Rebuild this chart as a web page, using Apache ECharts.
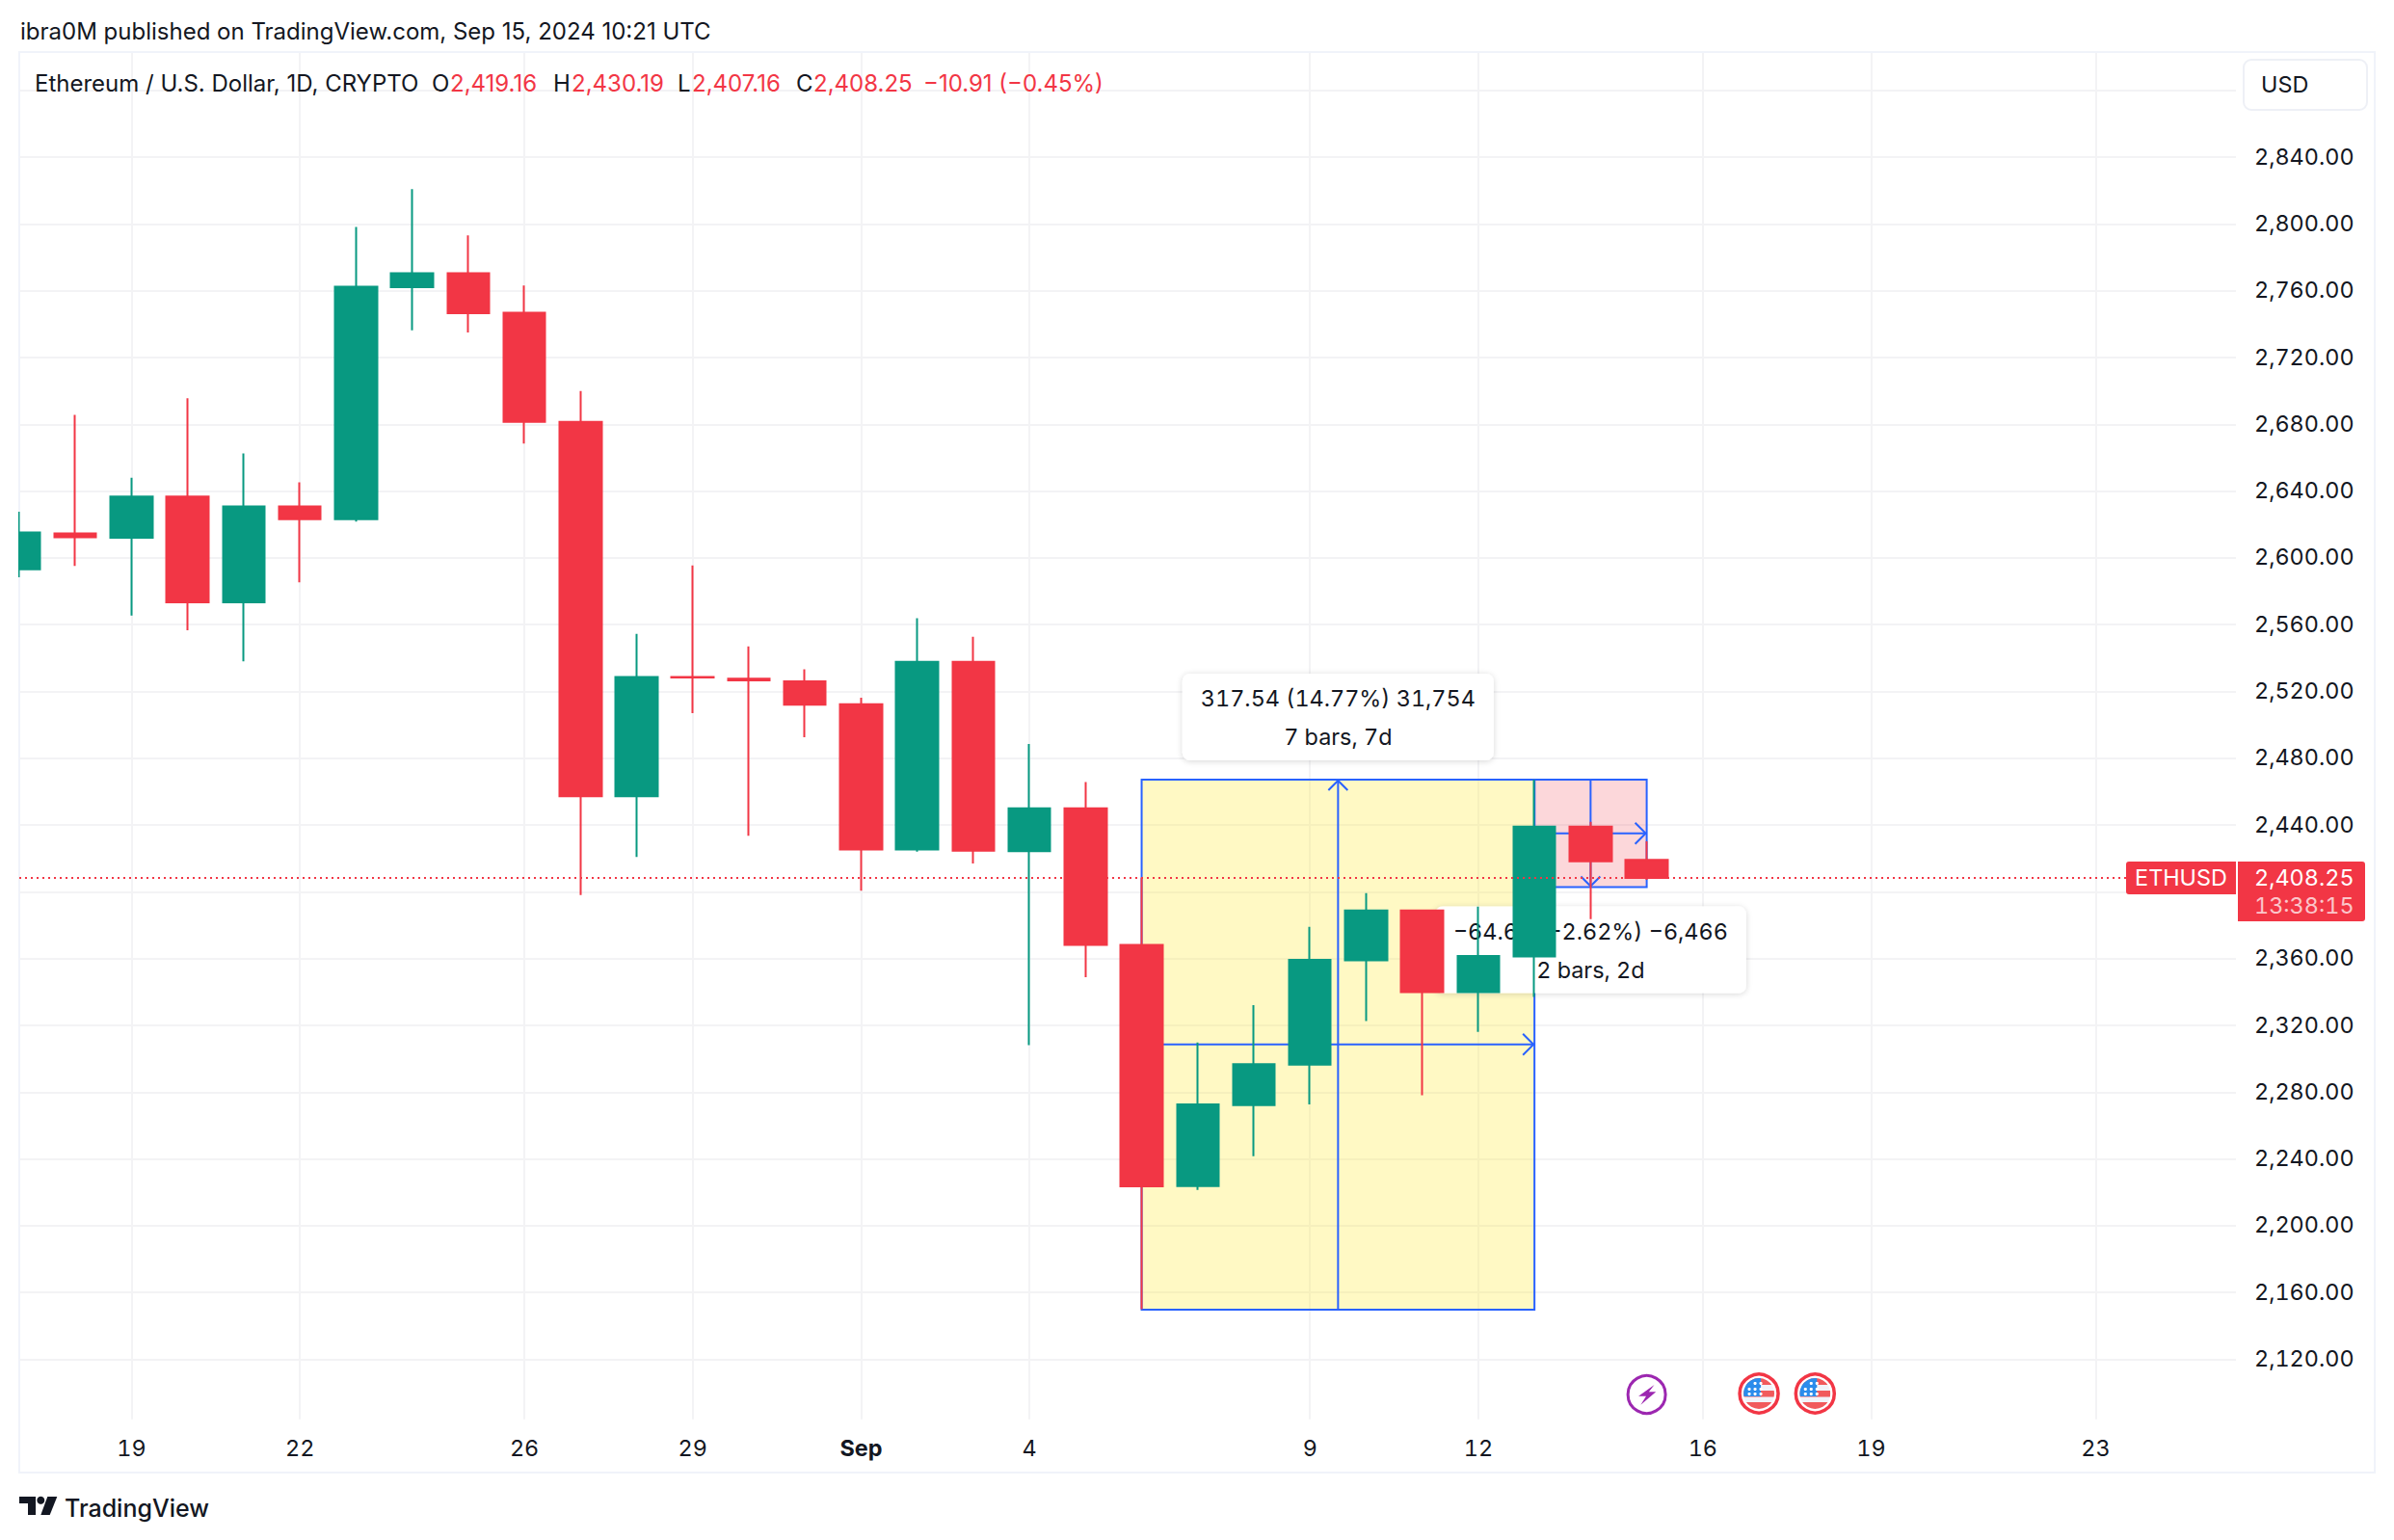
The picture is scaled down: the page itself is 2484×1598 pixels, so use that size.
<!DOCTYPE html>
<html>
<head>
<meta charset="utf-8">
<title>ETHUSD</title>
<style>
html,body{margin:0;padding:0;background:#fff}
#c{width:2484px;height:1598px}
#c text{font-variant-numeric:tabular-nums !important;font-feature-settings:"tnum" 1 !important}
#c text[style*="24px"]{font-variant-numeric:normal !important;font-feature-settings:normal !important}
</style>
<script src="https://cdn.jsdelivr.net/npm/echarts@6/dist/echarts.min.js"></script>
</head>
<body>
<div id="c"></div>
<script>
// ---------- data ----------
const dates = ['Aug 17','Aug 18','Aug 19','Aug 20','Aug 21','Aug 22','Aug 23','Aug 24','Aug 25','Aug 26','Aug 27','Aug 28','Aug 29','Aug 30','Aug 31',
  'Sep 1','Sep 2','Sep 3','Sep 4','Sep 5','Sep 6','Sep 7','Sep 8','Sep 9','Sep 10','Sep 11','Sep 12','Sep 13','Sep 14','Sep 15'];
const opens  = [2593.1,2614.7,2612.0,2636.7,2573.4,2630.8,2623.2,2762.2,2770.5,2746.9,2681.5,2457.3,2528.7,2527.7,2526.0,
  2512.4,2425.3,2537.7,2424.4,2450.0,2368.2,2223.8,2272.3,2296.5,2358.9,2388.9,2339.9,2361.3,2439.1,2419.16];
const closes = [2615.2,2612.4,2636.7,2573.4,2630.8,2623.2,2762.5,2770.5,2746.6,2681.5,2457.3,2528.6,2528.4,2526.7,2512.0,
  2425.3,2537.7,2424.6,2450.0,2368.2,2223.6,2272.6,2296.8,2359.2,2388.9,2339.9,2361.5,2439.1,2418.2,2408.25];
const lows   = [2588.4,2595.2,2565.4,2556.6,2538.0,2585.4,2621.7,2736.3,2735.0,2668.5,2398.0,2420.8,2507.0,2433.5,2492.6,
  2400.6,2424.0,2417.0,2308.2,2348.9,2150.0,2221.5,2241.6,2272.6,2322.6,2278.2,2316.1,2337.0,2383.7,2407.16];
const highs  = [2627.6,2685.6,2648.0,2695.6,2662.6,2645.3,2798.2,2820.9,2793.2,2763.1,2700.0,2554.5,2595.5,2547.0,2533.3,
  2516.2,2563.9,2552.7,2488.5,2465.7,2408.4,2309.7,2332.1,2379.0,2399.2,2389.0,2391.2,2467.2,2441.9,2430.19];

const dayTicks   = [2,5,9,12,15,18,23,26,30,33,37];
const dayLabels  = ['19','22','26','29','Sep','4','9','12','16','19','23'];
const priceGrid  = [2120,2160,2200,2240,2280,2320,2360,2400,2440,2480,2520,2560,2600,2640,2680,2720,2760,2800,2840,2880];
const priceTicks = [2120,2160,2200,2240,2280,2320,2360,2440,2480,2520,2560,2600,2640,2680,2720,2760,2800,2840];

// date-range drawings: startDay, endDay, lowPrice, highPrice, arrowPrice
const rangeUp    = [20,27,2149.8,2467.2,2308.6];
const rangeDown  = [27,29,2402.8,2467.2,2435.0];
const rangeUpText   = ['317.54 (14.77%) 31,754','7 bars, 7d'];
const rangeDownText = ['\u221264.66 (\u22122.62%) \u22126,466','2 bars, 2d'];

const boltEventDays = [29];
const flagEventDays = [31,32];

const legendName = 'Ethereum / U.S. Dollar, 1D, CRYPTO';
const legendOHLC = ['2,419.16','2,430.19','2,407.16','2,408.25'];
const legendChange = '\u221210.91 (\u22120.45%)';
const lastPrice = 2408.25;
const lastPriceText = '2,408.25';
const countdown = '13:38:15';
const symbol = 'ETHUSD';
// ------------------------------------------------

const FONT = 'Inter, "Liberation Sans", sans-serif';
const RED = '#F23645', GREEN = '#089981', BLUE = '#2962FF', INK = '#131722';
const FS = 23.4;      // tabular digits: price scale, tags, measure boxes
const FS_HEAD = 24;   // proportional digits: header and legend

function chevron(x, y, dir, s, style) {
  const d = { u:[[-s,s],[0,0],[s,s]], d:[[-s,-s],[0,0],[s,-s]], r:[[-s,-s],[0,0],[-s,s]] }[dir];
  return { type:'polyline', shape:{ points:d.map(p=>[x+p[0],y+p[1]]) }, style };
}
function measureItem(api, r, up, texts, fill) {
  const [x0,yBot] = api.coord([r[0],r[2]]);
  const [x1,yTop] = api.coord([r[1],r[3]]);
  const yArrow = api.coord([r[0],r[4]])[1];
  const xm = (x0+x1)/2;
  const stroke = { stroke:BLUE, lineWidth:2, fill:null };
  const boxW = 323, boxH = 90;
  const boxY = up ? yTop-20-boxH : yBot+20;
  return { type:'group', children:[
    { type:'rect', shape:{x:x0,y:yTop,width:x1-x0,height:yBot-yTop}, style:{fill, stroke:BLUE, lineWidth:2} },
    { type:'line', shape:{x1:xm,y1:yBot,x2:xm,y2:yTop}, style:stroke },
    chevron(xm, up?yTop+1:yBot-1, up?'u':'d', 10, stroke),
    { type:'line', shape:{x1:x0,y1:yArrow,x2:x1,y2:yArrow}, style:stroke },
    chevron(x1-1, yArrow, 'r', 11, stroke),
    { type:'rect', shape:{x:xm-boxW/2,y:boxY,width:boxW,height:boxH,r:8},
      style:{fill:'#fff', shadowBlur:6, shadowColor:'rgba(0,0,0,0.16)', shadowOffsetY:1} },
    { type:'text', style:{x:xm,y:boxY+26,text:texts[0],fill:INK,font:'400 '+FS+'px '+FONT,textAlign:'center',textVerticalAlign:'middle'} },
    { type:'text', style:{x:xm,y:boxY+66,text:texts[1],fill:INK,font:'400 '+FS+'px '+FONT,textAlign:'center',textVerticalAlign:'middle'} }
  ]};
}

const ICON_Y = 1447;
function boltItem(x) {
  const pts = [[7.9,-10],[-8.5,1.7],[-0.6,1.7],[-6.2,10.7],[9.6,-2.7],[2.3,-2.7]];
  return { type:'group', children:[
    { type:'circle', shape:{cx:x,cy:ICON_Y,r:19.5}, style:{fill:'#fff',stroke:'#9C27B0',lineWidth:3} },
    { type:'polygon', shape:{points:pts.map(p=>[x+p[0],ICON_Y+p[1]])}, style:{fill:'#9C27B0'} }
  ]};
}
function flagItem(x) {
  const y = ICON_Y-1, R = 16;
  const clip = { type:'circle', shape:{cx:x,cy:y,r:R} };
  const sRect = (xx,yy,w,h,c) => ({ type:'rect', shape:{x:xx,y:yy,width:w,height:h}, style:{fill:c}, clipPath:clip });
  const kids = [
    { type:'circle', shape:{cx:x,cy:y,r:20}, style:{fill:'#fff',stroke:RED,lineWidth:3.5} },
    sRect(x-R,y-R,2*R,2*R,'#F1F3F9'),
    sRect(x-R,y-R,2*R,7,'#F15A5C'),
    sRect(x-R,y-3,2*R,6.5,'#F15A5C'),
    sRect(x-R,y+9,2*R,7,'#F15A5C'),
    sRect(x-R,y-R,18,19,'#2B8CEB')
  ];
  [[-5,-11],[1,-11],[-11,-5],[-5,-5],[1,-5],[-11,0],[-5,0],[1,0]].forEach(p => {
    kids.push({ type:'circle', shape:{cx:x+p[0]+1,cy:y+p[1]+0.5,r:1.6}, style:{fill:'#fff'} });
  });
  return { type:'group', children:kids };
}

function text(x,y,t,fill,opt) {
  return Object.assign({ type:'text', z:100, x, y, style:{ text:t, fill:fill||INK, font:'400 '+FS_HEAD+'px '+FONT, textVerticalAlign:'middle', textAlign:'left' } }, opt||{});
}

const candleData = dates.map((d,i)=>[i,opens[i],closes[i],lows[i],highs[i]]);

const chart = echarts.init(document.getElementById('c'), null, {renderer:'svg'});

chart.setOption({
  animation:false,
  backgroundColor:'#fff',
  textStyle:{ fontFamily:FONT },
  grid:{ left:20, right:164, top:55, bottom:125.3, containLabel:false, show:false },
  xAxis:{
    type:'value', min:0, max:39.5,
    axisLine:{show:false},
    axisTick:{show:false, customValues:dayTicks},
    splitLine:{show:true, lineStyle:{color:'#F3F3F5',width:2}},
    axisLabel:{
      customValues:dayTicks, margin:18, fontFamily:FONT, fontSize:FS, color:INK,
      formatter:v=>{ const l=dayLabels[dayTicks.indexOf(v)]; return l==='Sep'?'{b|Sep}':l; },
      rich:{ b:{ fontWeight:700, fontSize:FS, color:INK, fontFamily:FONT } }
    }
  },
  yAxis:{
    type:'value', position:'right', min:2084.1, max:2902.4, scale:true,
    axisLine:{show:false},
    axisTick:{show:false, customValues:priceGrid},
    splitLine:{show:true, lineStyle:{color:'#F3F3F5',width:2}},
    axisLabel:{
      customValues:priceTicks, margin:19, align:'left', fontFamily:FONT, fontSize:FS, color:INK,
      formatter:v=>'{p|'+v.toLocaleString('en-US',{minimumFractionDigits:2,maximumFractionDigits:2})+'}',
      rich:{ p:{ fontFamily:FONT, fontSize:FS, color:INK, padding:[0,0,2,0] } }
    }
  },
  series:[
    { type:'custom', name:'ranges', z:1, silent:true, clip:false,
      data:[[...rangeUp]],
      encode:{x:[0,1],y:[2,3]},
      renderItem:(p,api)=>({ type:'group', children:[
        measureItem(api, rangeUp, true, rangeUpText, 'rgba(255,235,59,0.30)'),
        measureItem(api, rangeDown, false, rangeDownText, 'rgba(242,54,69,0.20)')
      ]})
    },
    { type:'candlestick', name:'ETHUSD', z:2, silent:true, barWidth:44, clip:true,
      encode:{x:0,y:[1,2,3,4]},
      data:candleData,
      itemStyle:{ color:GREEN, color0:RED, borderColor:GREEN, borderColor0:RED, borderWidth:2 }
    },
    { type:'custom', name:'last', z:3, silent:true, clip:false,
      data:[[0,lastPrice]], encode:{x:0,y:1},
      renderItem:(p,api)=>{
        const y = api.coord([0,lastPrice])[1];
        const tf = '400 '+FS+'px '+FONT;
        return { type:'group', children:[
          { type:'line', shape:{x1:20,y1:y,x2:2206,y2:y}, style:{stroke:RED,lineWidth:2,lineDash:[2,4]} },
          { type:'rect', shape:{x:2206,y:y-17,width:114,height:34,r:[3,0,0,3]}, style:{fill:RED} },
          { type:'text', style:{x:2263,y:y-1,text:symbol,fill:'#fff',font:tf,textAlign:'center',textVerticalAlign:'middle'} },
          { type:'rect', shape:{x:2322,y:y-17,width:132,height:62,r:[0,3,3,0]}, style:{fill:RED} },
          { type:'text', style:{x:2339,y:y-1,text:lastPriceText,fill:'#fff',font:tf,textAlign:'left',textVerticalAlign:'middle'} },
          { type:'text', style:{x:2339,y:y+28,text:countdown,fill:'rgba(255,255,255,0.72)',font:tf,textAlign:'left',textVerticalAlign:'middle'} }
        ]};
      }
    },
    { type:'custom', name:'events', z:4, silent:true, clip:false,
      data:[...boltEventDays,...flagEventDays].map(d=>[d,2100]), encode:{x:0,y:1},
      renderItem:(p,api)=>{
        const day = api.value(0);
        const x = api.coord([day,2100])[0];
        return boltEventDays.includes(day) ? boltItem(x) : flagItem(x);
      }
    }
  ],
  graphic:[
    // frame, under the candles so the first wick shows on the left edge
    { type:'rect', z:0, silent:true, shape:{x:20,y:54,width:2444,height:1474}, style:{fill:null,stroke:'#F0F3FA',lineWidth:2} },
    // white page margin that hides the part of the first candle left of the plot
    { type:'rect', z:40, silent:true, shape:{x:0,y:54,width:19,height:1420}, style:{fill:'#fff'} },
    // header
    text(21,32.5,'ibra0M published on TradingView.com, Sep 15, 2024 10:21 UTC'),
    text(36,86,legendName),
    text(448,86,'O'), text(467,86,legendOHLC[0],RED),
    text(574,86,'H'), text(593,86,legendOHLC[1],RED),
    text(703,86,'L'), text(718,86,legendOHLC[2],RED),
    text(826,86,'C'), text(844,86,legendOHLC[3],RED),
    text(958,86,legendChange,RED),
    // currency box
    { type:'rect', z:60, shape:{x:2328,y:62,width:128,height:52,r:8}, style:{fill:'#fff',stroke:'#EEF0F6',lineWidth:2} },
    text(2346,87.5,'USD',INK,{style:{text:'USD',fill:INK,font:'400 '+FS+'px '+FONT,textVerticalAlign:'middle',textAlign:'left'}}),
    // logo
    { type:'polygon', z:100, shape:{points:[[20,1553],[37,1553],[37,1572],[29,1572],[29,1560],[20,1560]]}, style:{fill:INK} },
    { type:'circle', z:100, shape:{cx:42.3,cy:1556.8,r:4}, style:{fill:INK} },
    { type:'polygon', z:100, shape:{points:[[49.3,1553],[59.3,1553],[51.7,1572],[42.3,1572]]}, style:{fill:INK} },
    text(67,1565,'TradingView',INK,{style:{text:'TradingView',fill:INK,font:'500 25px '+FONT,textVerticalAlign:'middle',textAlign:'left'}})
  ]
});
</script>
</body>
</html>
